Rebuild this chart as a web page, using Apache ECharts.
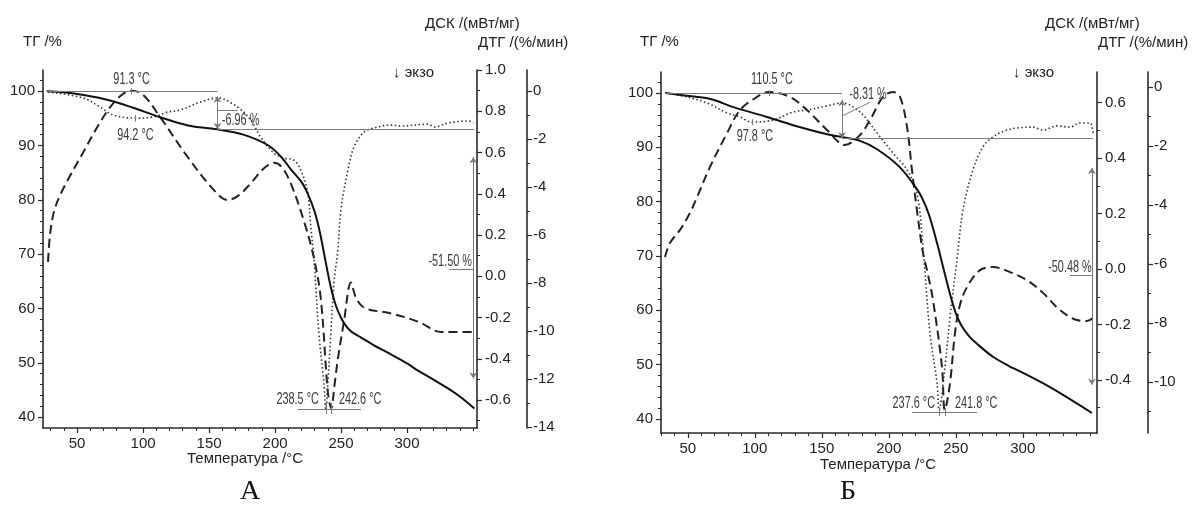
<!DOCTYPE html>
<html><head><meta charset="utf-8">
<script src="https://cdn.jsdelivr.net/npm/echarts@6/dist/echarts.min.js"></script>
<style>html,body{margin:0;padding:0;background:#fff}#c{width:1196px;height:521px}</style>
</head><body><div id="c"></div>
<script>
// ---------- Panel A data ----------
const tA_tg = [27, 40, 55, 75, 93, 113, 134, 156, 176, 195, 205, 212, 220, 225, 230, 234, 238, 242, 246, 250, 254, 258, 265, 275, 285, 300, 308, 320, 331, 340, 351];
const tgA   = [100, 99.8, 99.3, 98.3, 96.9, 95.2, 93.7, 93.0, 92.0, 90.0, 87.8, 85.6, 83.3, 81.0, 77.8, 74.0, 69.0, 64.2, 60.6, 58.3, 56.7, 55.7, 54.7, 53.2, 51.9, 49.9, 48.6, 46.9, 45.3, 43.8, 41.6];
const tA_dsc = [28, 29.5, 32, 35.6, 42.4, 54.6, 65, 75.1, 84, 91.3, 100, 113.1, 133.6, 153.4, 164, 172, 181.5, 191, 199, 205, 211.9, 221.8, 229.4, 234.7, 240, 242.6, 245, 247.6, 252.2, 257.5, 261, 265.1, 270.4, 287.9, 308.4, 325.9, 338.8, 350.9];
const dscA   = [0.07, 0.20, 0.30, 0.37, 0.46, 0.60, 0.72, 0.82, 0.88, 0.90, 0.88, 0.77, 0.58, 0.42, 0.37, 0.39, 0.45, 0.52, 0.55, 0.53, 0.45, 0.27, 0.09, -0.11, -0.56, -0.64, -0.53, -0.40, -0.22, -0.03, -0.10, -0.14, -0.16, -0.18, -0.22, -0.27, -0.27, -0.27];
const tA_dtg = [28, 54.6, 67.5, 77.4, 94.2, 107.8, 118.4, 128.3, 143.5, 156.4, 171.6, 181.5, 189.1, 199, 206.6, 214.2, 219.5, 224.8, 227.1, 229.4, 233.2, 237, 238.5, 240, 242.3, 244.6, 247.6, 249.9, 255.2, 259.8, 267.4, 275, 287.9, 295.5, 316, 320.6, 331.2, 346.4, 350.2];
const dtgA   = [-0.04, -0.29, -0.67, -1.0, -1.13, -1.08, -0.88, -0.79, -0.46, -0.29, -0.67, -1.21, -1.92, -2.58, -2.79, -2.88, -3.29, -4.25, -5.67, -6.92, -10.08, -12.17, -13.25, -12.17, -10.08, -8.0, -6.63, -4.96, -3.29, -2.33, -1.71, -1.54, -1.42, -1.46, -1.38, -1.5, -1.33, -1.25, -1.33];

// ---------- Panel B data ----------
const tB_tg = [33, 46, 67, 84, 109, 134, 154, 165, 178.5, 191, 208, 221, 225, 230, 236, 241, 245.7, 250, 254, 260, 266, 278, 290, 296, 320, 351.6];
const tgB   = [100, 99.6, 98.9, 97.4, 95.6, 93.7, 92.4, 91.9, 91.2, 89.7, 86.4, 82.3, 80.6, 77.6, 72.4, 67.5, 63.0, 59.5, 57.3, 55.2, 53.8, 51.4, 49.7, 49.0, 45.9, 41.1];
const tB_dsc = [33, 36.7, 44.2, 51.6, 56.9, 66.6, 79.3, 89, 101.6, 110.5, 126.3, 139, 153.9, 167.3, 178.5, 186, 195.7, 203.1, 208.4, 213.6, 217.3, 221, 225.5, 228.5, 233, 239.7, 241.8, 245.7, 249.4, 253.1, 258.4, 268.1, 277.8, 290.4, 303.1, 315.1, 327.8, 340.4, 347.9, 352.3];
const dscB   = [0.043, 0.094, 0.141, 0.202, 0.259, 0.368, 0.490, 0.573, 0.620, 0.638, 0.620, 0.573, 0.501, 0.447, 0.483, 0.537, 0.620, 0.638, 0.620, 0.512, 0.357, 0.213, 0.058, -0.004, -0.112, -0.353, -0.508, -0.411, -0.231, -0.130, -0.065, -0.004, 0.007, -0.011, -0.040, -0.086, -0.148, -0.184, -0.187, -0.177];
const tB_dtg = [33, 49.4, 64.3, 79.3, 89, 97.8, 113.6, 128.5, 139, 153.9, 165.1, 178.5, 191.2, 203.1, 213.6, 221, 225.5, 230.7, 236, 237.6, 241.9, 245.7, 250.9, 255.4, 262.8, 270.3, 277.8, 288.2, 295.7, 307.6, 315.1, 325.5, 335.2, 342.6, 350.1, 352.4];
const dtgB   = [-0.20, -0.34, -0.54, -0.88, -1.02, -1.19, -1.12, -0.85, -0.78, -0.64, -0.54, -0.85, -1.56, -2.24, -2.81, -3.59, -5.42, -8.34, -10.03, -10.95, -9.49, -7.80, -5.86, -4.17, -2.81, -2.03, -1.69, -1.46, -1.39, -1.36, -1.46, -1.32, -1.36, -1.22, -1.22, -1.56];

// ---------- tick values ----------
const xTicks = [50, 100, 150, 200, 250, 300];
const xMinor = [30, 40, 60, 70, 80, 90, 110, 120, 130, 140, 160, 170, 180, 190, 210, 220, 230, 240, 260, 270, 280, 290, 310, 320, 330, 340, 350];
const tgTicks = [40, 50, 60, 70, 80, 90, 100];
const tgMinor = [42, 44, 46, 48, 52, 54, 56, 58, 62, 64, 66, 68, 72, 74, 76, 78, 82, 84, 86, 88, 92, 94, 96, 98, 102];
const dscTicksA = [-0.6, -0.4, -0.2, 0, 0.2, 0.4, 0.6, 0.8, 1.0];
const dscMinorA = [-0.7, -0.5, -0.3, -0.1, 0.1, 0.3, 0.5, 0.7, 0.9];
const dtgTicksA = [-14, -12, -10, -8, -6, -4, -2, 0];
const dtgMinorA = [-13, -11, -9, -7, -5, -3, -1];
const dscTicksB = [-0.4, -0.2, 0, 0.2, 0.4, 0.6];
const dscMinorB = [-0.5, -0.3, -0.1, 0.1, 0.3, 0.5];
const dtgTicksB = [-10, -8, -6, -4, -2, 0];
const dtgMinorB = [-11, -9, -7, -5, -3, -1];

// ---------- annotations (data units: °C, TG %) ----------
const annTextA  = ['91.3 °C', '94.2 °C', '-6.96 %', '-51.50 %', '238.5 °C', '242.6 °C'];
const annTA     = [91.3, 94.2, 173.9, 332.7, 233.2, 248.4];
const annYA     = [102.2, 91.9, 94.66, 68.7, 43.3, 43.3];
const annTextB  = ['110.5 °C', '97.8 °C', '-8.31 %', '-50.48 %', '237.6 °C', '241.8 °C'];
const annTB     = [112.8, 100.1, 184.5, 335.2, 234.5, 249.4];
const annYB     = [102.4, 91.9, 99.8, 67.8, 42.8, 42.8];
const annAlign  = ['center', 'center', 'center', 'center', 'right', 'left'];
// [x1, y1, x2, y2, arrow]
const segA = [
  [27.5, 100, 156.4, 100, 0],
  [156.4, 99.0, 156.4, 93.04, 1],
  [156.4, 96.52, 171.6, 96.52, 0],
  [156.4, 93.04, 351, 93.04, 0],
  [350.2, 87.85, 350.2, 47.1, 1],
  [332, 67.29, 350.2, 67.29, 0],
  [217.2, 41.54, 265.1, 41.54, 0],
  [91.3, 100.6, 91.3, 99.4, 0],
  [94.2, 95.6, 94.2, 94.4, 0],
  [238.5, 42.6, 238.5, 40.6, 0],
  [242.6, 42.6, 242.6, 40.6, 0]
];
const segB = [
  [33, 100, 165.1, 100, 0],
  [165.1, 98.7, 165.1, 91.69, 1],
  [165.8, 95.85, 186, 98.3, 0],
  [165.1, 91.69, 352.4, 91.69, 0],
  [351.6, 86.2, 351.6, 46.3, 1],
  [335.2, 66.45, 351.6, 66.45, 0],
  [217.3, 41.21, 265.8, 41.21, 0],
  [110.5, 100.55, 110.5, 99.45, 0],
  [97.8, 95.2, 97.8, 94.1, 0],
  [237.6, 42.0, 237.6, 40.5, 0],
  [241.8, 42.0, 241.8, 40.5, 0]
];

const FONT = '"Liberation Sans", Arial, Helvetica, sans-serif';
const AX = '#2a2a2a';
const pair = (xs, ys) => xs.map((x, i) => [x, ys[i]]);

function xAxes(grid, min, max) {
  return [
    { type: 'value', gridIndex: grid, min, max, position: 'bottom',
      axisLine: { show: true, onZero: false, lineStyle: { color: AX, width: 1.6 } },
      axisTick: { show: true, customValues: xTicks, length: 5, lineStyle: { color: AX, width: 1.2 } },
      axisLabel: { show: true, customValues: xTicks, margin: 8, fontSize: 15, color: '#222', fontFamily: FONT },
      splitLine: { show: false } },
    { type: 'value', gridIndex: grid, min, max, position: 'bottom',
      axisLine: { show: false, onZero: false },
      axisTick: { show: true, customValues: xMinor, length: 3, lineStyle: { color: AX, width: 1 } },
      axisLabel: { show: false }, splitLine: { show: false } }
  ];
}
function yAxes(grid, min, max, position, offset, major, minor, fmt, margin) {
  return [
    { type: 'value', gridIndex: grid, min, max, position, offset,
      axisLine: { show: true, onZero: false, lineStyle: { color: AX, width: 1.6 } },
      axisTick: { show: true, customValues: major, length: 5, lineStyle: { color: AX, width: 1.2 } },
      axisLabel: { show: true, customValues: major, margin, fontSize: 15, color: '#222', fontFamily: FONT, formatter: fmt },
      splitLine: { show: false } },
    { type: 'value', gridIndex: grid, min, max, position, offset,
      axisLine: { show: false, onZero: false },
      axisTick: { show: true, customValues: minor, length: 3, lineStyle: { color: AX, width: 1 } },
      axisLabel: { show: false }, splitLine: { show: false } }
  ];
}
const f0 = v => String(Math.round(v));
const f1 = v => (Math.abs(v) < 1e-9 ? 0 : v).toFixed(1);

function markLines(segs) {
  return {
    silent: true, animation: false, symbolSize: 6,
    label: { show: false }, emphasis: { disabled: true },
    lineStyle: { color: '#7a7a7a', width: 1, type: 'solid' },
    data: segs.map(s => [
      { coord: [s[0], s[1]], symbol: s[4] ? 'arrow' : 'none', symbolSize: 6 },
      { coord: [s[2], s[3]], symbol: s[4] ? 'arrow' : 'none', symbolSize: 6 }
    ])
  };
}
function labelSeries(xi, yi, ts, ys, texts) {
  return {
    type: 'custom', xAxisIndex: xi, yAxisIndex: yi, silent: true, z: 6,
    data: ts.map((t, i) => [t, ys[i]]),
    renderItem: (params, api) => {
      const p = api.coord([api.value(0), api.value(1)]);
      const i = params.dataIndex;
      return { type: 'text', x: p[0], y: p[1], scaleX: 0.68,
        style: { text: texts[i], fontSize: 16, fontFamily: FONT, fill: '#3a3a3a', align: annAlign[i], verticalAlign: 'middle' } };
    }
  };
}
function curves(xi, yTG, yDSC, yDTG, tg, dsc, dtg, segs) {
  return [
    { type: 'line', xAxisIndex: xi, yAxisIndex: yDSC, data: dsc, showSymbol: false, smooth: 0.35,
      lineStyle: { color: '#222', width: 2, type: [9, 5] }, z: 3 },
    { type: 'line', xAxisIndex: xi, yAxisIndex: yDTG, data: dtg, showSymbol: false, smooth: 0.35,
      lineStyle: { color: '#333', width: 1.6, type: [1.5, 2.5] }, z: 3 },
    { type: 'line', xAxisIndex: xi, yAxisIndex: yTG, data: tg, showSymbol: false, smooth: 0.35,
      lineStyle: { color: '#111', width: 2 }, z: 4, markLine: markLines(segs) }
  ];
}

const option = {
  animation: false,
  backgroundColor: '#fff',
  grid: [
    { left: 43, top: 70, width: 434, height: 358 },
    { left: 661, top: 72, width: 436, height: 361 }
  ],
  xAxis: [].concat(xAxes(0, 24.2, 353), xAxes(1, 30, 355.4)),
  yAxis: [].concat(
    yAxes(0, 38.0, 103.9, 'left', 0, tgTicks, tgMinor, f0, 8),
    yAxes(0, -0.7355, 1.0, 'right', 0, dscTicksA, dscMinorA, f1, 8),
    yAxes(0, -14.04, 0.875, 'right', 50, dtgTicksA, dtgMinorA, f0, 6),
    yAxes(1, 37.42, 103.87, 'left', 0, tgTicks, tgMinor, f0, 8),
    yAxes(1, -0.591, 0.710, 'right', 0, dscTicksB, dscMinorB, f1, 8),
    yAxes(1, -11.73, 0.508, 'right', 51, dtgTicksB, dtgMinorB, f0, 6)
  ),
  series: [].concat(
    curves(0, 0, 2, 4, pair(tA_tg, tgA), pair(tA_dsc, dscA), pair(tA_dtg, dtgA), segA),
    [labelSeries(0, 0, annTA, annYA, annTextA)],
    curves(2, 6, 8, 10, pair(tB_tg, tgB), pair(tB_dsc, dscB), pair(tB_dtg, dtgB), segB),
    [labelSeries(2, 6, annTB, annYB, annTextB)]
  ),
  graphic: [
    { type: 'text', x: 23, y: 42, style: { text: 'ТГ /%', fontSize: 15, fontFamily: FONT, fill: '#222', verticalAlign: 'middle' } },
    { type: 'text', x: 425, y: 24, style: { text: 'ДСК /(мВт/мг)', fontSize: 15, fontFamily: FONT, fill: '#222', verticalAlign: 'middle' } },
    { type: 'text', x: 478, y: 43, style: { text: 'ДТГ /(%/мин)', fontSize: 15, fontFamily: FONT, fill: '#222', verticalAlign: 'middle' } },
    { type: 'text', x: 393, y: 73, style: { text: '↓ экзо', fontSize: 15, fontFamily: FONT, fill: '#222', verticalAlign: 'middle' } },
    { type: 'text', x: 245, y: 459, style: { text: 'Температура /°C', fontSize: 15, fontFamily: FONT, fill: '#222', align: 'center', verticalAlign: 'middle' } },
    { type: 'text', x: 250, y: 492, style: { text: 'А', fontSize: 28, fontFamily: '"Liberation Serif", "DejaVu Serif", serif', fill: '#111', align: 'center', verticalAlign: 'middle' } },
    { type: 'text', x: 640, y: 42, style: { text: 'ТГ /%', fontSize: 15, fontFamily: FONT, fill: '#222', verticalAlign: 'middle' } },
    { type: 'text', x: 1045, y: 24, style: { text: 'ДСК /(мВт/мг)', fontSize: 15, fontFamily: FONT, fill: '#222', verticalAlign: 'middle' } },
    { type: 'text', x: 1098, y: 43, style: { text: 'ДТГ /(%/мин)', fontSize: 15, fontFamily: FONT, fill: '#222', verticalAlign: 'middle' } },
    { type: 'text', x: 1013, y: 73, style: { text: '↓ экзо', fontSize: 15, fontFamily: FONT, fill: '#222', verticalAlign: 'middle' } },
    { type: 'text', x: 878, y: 465, style: { text: 'Температура /°C', fontSize: 15, fontFamily: FONT, fill: '#222', align: 'center', verticalAlign: 'middle' } },
    { type: 'text', x: 848, y: 492, style: { text: 'Б', fontSize: 28, fontFamily: '"Liberation Serif", "DejaVu Serif", serif', fill: '#111', align: 'center', verticalAlign: 'middle' } }
  ]
};
const chart = echarts.init(document.getElementById('c'), null, { renderer: 'canvas' });
chart.setOption(option);
</script></body></html>
